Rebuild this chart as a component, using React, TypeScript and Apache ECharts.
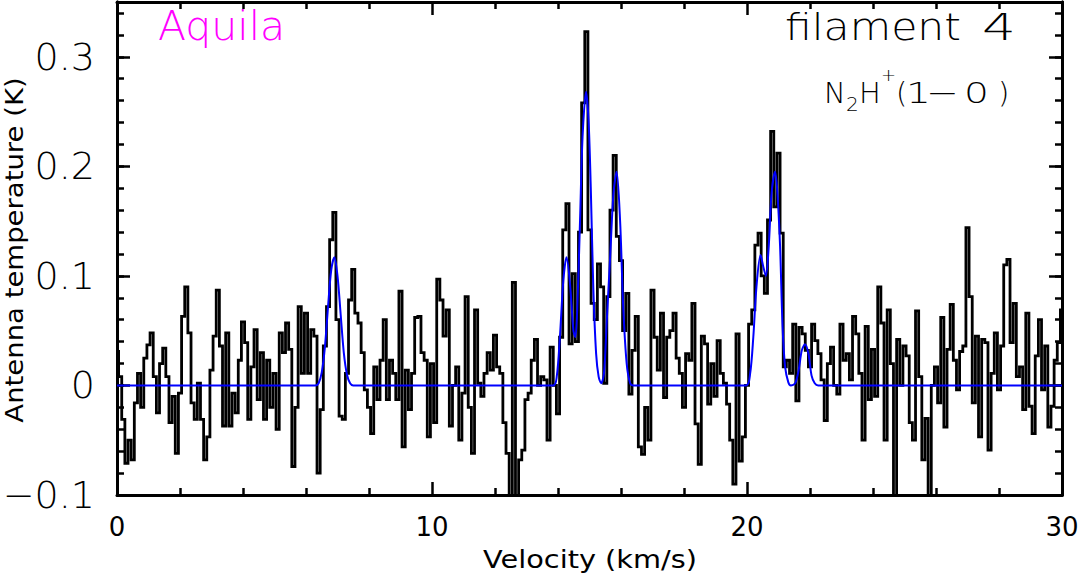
import React, { useEffect, useRef } from "react";
import * as echarts from "echarts";

// ---- data ----
const CHANNEL_WIDTH = 0.1; // km/s

const SPEC_A_START = 0.0;
const SPEC_A = [
  0.031, 0.008, -0.031, -0.071, -0.05, -0.068, -0.016, 0.011, -0.02, 0.025,
  0.037, 0.048, 0.008, -0.025, 0.02, 0.034, 0.008, -0.034, -0.01, -0.062,
  -0.007, 0.063, 0.09, 0.048, -0.016, -0.031, 0.002, -0.031, -0.068, -0.047,
  0.014, 0.045, 0.087, 0.036, -0.037, 0.048, -0.037, -0.007, -0.025, 0.023,
  0.058, 0.039, -0.031, 0.017, 0.051, -0.013, 0.03, -0.031, 0.023, -0.02,
  0.011, -0.04, 0.048, 0.03, 0.057, 0.033, -0.074, -0.02, 0.072, 0.011,
  0.066, 0.011, 0.051, 0.045, -0.08, -0.022, 0.036, 0.072, 0.133, 0.158,
  0.06, -0.028, -0.031, 0.011,
];

const SPEC_B_START = 7.4;
const SPEC_B = [
  0.078, 0.106, 0.066, 0.057, 0.03, -0.004, -0.02, -0.044, 0.017, -0.013,
  0.023, 0.06, -0.013, 0.023, 0.011, -0.013, 0.086, -0.056, 0.014, -0.022,
  0.011, 0.062, 0.063, 0.03, 0.023, -0.047, 0.02, -0.034, 0.097, 0.078,
  0.045, 0.069, -0.037, 0, 0.017, -0.05, -0.007, 0.081, -0.02, -0.062,
  0.069, 0.002, -0.01, 0.011, 0.03, 0.014, 0.046, 0.017, 0.011, -0.034,
  -0.062, -0.105, 0.094, -0.11, -0.068, -0.059, -0.013, -0.007, 0.023, 0.042,
  0,
];

const SPEC_C_START = 13.5;
const SPEC_C = [
  0.008, 0.005, -0.05, 0.035, 0, -0.026, 0.044, 0.142, 0.166, 0.038,
  0.102, 0.04, 0.14, 0.258, 0.323, 0.142, 0.075, 0.06, 0.111, 0.09,
  0.002, 0.081, 0.16, 0.21, 0.136, 0.114, 0.05, 0.084, -0.008, 0.032,
  0.063, -0.056, -0.063, -0.02, -0.05, 0.087, 0.044, 0.014, 0.066, -0.011,
  0.044,
];

const SPEC_D_START = 17.6;
const SPEC_D = [
  0.05, 0.066, 0.025, 0.011, -0.02, 0.029, 0.023, 0.075, -0.035, -0.072,
  0.045, 0.038, -0.017, 0.02, -0.01, 0.041, 0.011, 0.002, -0.017, -0.05,
  -0.09, 0.047, -0.069, -0.047, 0, 0.056, 0.069, 0.128, 0.139, 0.1,
  0.084, 0.151, 0.232, 0.163, 0.212, 0.139, 0.017, 0.023, 0.011, 0.056,
  -0.014, 0.053, 0.047, 0.032, 0.017, 0.056, 0.041, 0.029, 0.005, -0.032,
  0.02, 0.035, 0, -0.008, 0.056, 0.023, 0.029, 0.005, 0.063, 0.047,
  0.011, -0.05,
];

const SPEC_E_START = 23.8;
const SPEC_E = [
  0.054, -0.013, 0.033, -0.01, 0.09, 0.057, -0.05, 0.069, 0.02, -0.105,
  0.042, 0, 0.036, 0.027, -0.034, -0.05, 0.068, 0.008, -0.068, -0.03,
  -0.105, 0, 0.017, -0.016, 0.062, -0.038, 0.033, 0.074, 0.023, -0.004,
  0.031, 0.036, 0.144, 0.081, -0.016, 0.045, -0.047, 0.042, 0.039, -0.059,
  0.011, 0.048, -0.004, 0.036, 0.11, 0.115, 0.039, 0.075, 0.008, 0.017,
  -0.022, 0.066, -0.019, -0.044, 0.027, 0.06, -0.004, 0.036, -0.038, -0.019,
  0.023, 0.039, 0.069,
];

// hyperfine fit (blue)
const FIT_VELOCITY = [
  0, 6.3, 6.4, 6.5, 6.6, 6.7, 6.8, 6.9, 7.0, 7.1, 7.2, 7.3, 7.4, 7.5,
  13.85, 13.96, 14.06, 14.17, 14.27, 14.38, 14.49, 14.55, 14.61, 14.7, 14.78,
  14.89, 14.97, 15.04, 15.12, 15.21, 15.29, 15.37, 15.46, 15.55, 15.65, 15.76,
  15.86, 15.97, 16.07, 16.18, 16.29, 16.4,
  19.97, 20.1, 20.2, 20.3, 20.43, 20.52, 20.6, 20.69, 20.78, 20.89, 20.96,
  21.05, 21.13, 21.21, 21.31, 21.39, 21.53, 21.64, 21.74, 21.84, 21.95, 22.05,
  22.15, 22.26, 30,
];
const FIT_TEMPERATURE = [
  0, 0, 0.002, 0.012, 0.035, 0.072, 0.105, 0.117, 0.1, 0.065, 0.03, 0.01, 0.002, 0,
  0, 0.008, 0.044, 0.096, 0.117, 0.093, 0.05, 0.044, 0.069, 0.151, 0.227,
  0.268, 0.242, 0.181, 0.09, 0.029, 0.008, 0.002, 0.011, 0.06, 0.114, 0.175,
  0.195, 0.151, 0.072, 0.02, 0.002, 0,
  0, 0.011, 0.044, 0.09, 0.119, 0.108, 0.1, 0.127, 0.175, 0.195, 0.178,
  0.127, 0.053, 0.017, 0.003, 0, 0.002, 0.014, 0.032, 0.0375, 0.029, 0.009,
  0.002, 0, 0,
];

const X_MIN = 0;
const X_MAX = 30;
const Y_MIN = -0.1;
const Y_MAX = 0.35;

const FONT = '"DejaVu Sans", "Liberation Sans", sans-serif';

function channels(start: number, values: number[]) {
  return values.map((t, i) => [Number((start + i * CHANNEL_WIDTH).toFixed(3)), t]);
}

const spectrum = [
  ...channels(SPEC_A_START, SPEC_A),
  ...channels(SPEC_B_START, SPEC_B),
  ...channels(SPEC_C_START, SPEC_C),
  ...channels(SPEC_D_START, SPEC_D),
  ...channels(SPEC_E_START, SPEC_E),
];
const fit = FIT_VELOCITY.map((v, i) => [v, FIT_TEMPERATURE[i]]);

function txt(text: string, x: number, y: number, size: number, o: any = {}) {
  return {
    type: "text",
    x,
    y,
    rotation: o.rot || 0,
    scaleX: o.sx || 1,
    silent: true,
    z: 20,
    style: {
      text,
      fontSize: size,
      fontFamily: FONT,
      fontWeight: o.w || 300,
      fill: o.color || "#000",
      align: o.align || "left",
      verticalAlign: "middle",
      textAlign: o.align || "left",
      textVerticalAlign: "middle",
    },
  };
}

function yLabel(v: number) {
  const k = v * 10;
  if (Math.abs(k - Math.round(k)) > 1e-6) return "";
  if (Math.abs(v) < 1e-9) return "0";
  return (v < 0 ? "\u2212" : "") + Math.abs(v).toFixed(1);
}

export default function App() {
  const ref = useRef<HTMLDivElement>(null);
  useEffect(() => {
    if (!ref.current) return;
    const chart = echarts.init(ref.current, null, { renderer: "svg" });
    const lineBlack = { color: "#000", width: 3 };
    const tickMajor = { show: true, inside: true, length: 13, lineStyle: { color: "#000", width: 2.5 } };
    const tickMinor = { show: true, inside: true, length: 7, lineStyle: { color: "#000", width: 2.5 } };
    const xBase = {
      type: "value",
      min: X_MIN,
      max: X_MAX,
      interval: 10,
      axisLine: { show: true, onZero: false, lineStyle: lineBlack },
      axisTick: tickMajor,
      minorTick: { show: true, splitNumber: 5, length: 7, lineStyle: { color: "#000", width: 2.5 } },
      splitLine: { show: false },
      minorSplitLine: { show: false },
    };
    const yBase = (pos: string, interval: number, tick: any, labels: boolean) => ({
      type: "value",
      position: pos,
      min: Y_MIN,
      max: Y_MAX,
      interval,
      axisLine: { show: true, onZero: false, lineStyle: lineBlack },
      axisTick: tick,
      splitLine: { show: false },
      axisLabel: labels
        ? {
            show: true,
            formatter: yLabel,
            fontSize: 38,
            fontFamily: FONT,
            fontWeight: 300,
            color: "#000",
            margin: 22,
            showMaxLabel: false,
          }
        : { show: false },
    });
    chart.setOption({
      animation: false,
      backgroundColor: "#fff",
      grid: { left: 117, right: 17, top: 2, bottom: 80, containLabel: false, outerBoundsMode: "none" },
      xAxis: [
        {
          ...xBase,
          position: "bottom",
          axisLabel: { show: true, fontSize: 26, fontFamily: FONT, fontWeight: 400, color: "#000", margin: 19 },
        },
        { ...xBase, position: "top", axisLabel: { show: false } },
      ],
      yAxis: [
        yBase("left", 0.02, tickMinor, true),
        yBase("left", 0.1, tickMajor, false),
        yBase("right", 0.02, tickMinor, false),
        yBase("right", 0.1, tickMajor, false),
      ],
      series: [
        {
          type: "line",
          name: "spectrum",
          data: spectrum,
          step: "middle",
          showSymbol: false,
          symbol: "none",
          clip: true,
          lineStyle: { color: "#000", width: 2.8, join: "miter" },
          z: 2,
        },
        {
          type: "line",
          name: "fit",
          data: fit,
          smooth: 0.3,
          showSymbol: false,
          symbol: "none",
          clip: true,
          lineStyle: { color: "#0000ff", width: 2 },
          z: 3,
        },
      ],
      graphic: [
        txt("Aquila", 158, 26, 41, { color: "#ff00ff" }),
        txt("filament", 785, 27, 38, { sx: 1.12 }),
        txt("4", 982, 27, 38, { sx: 1.4 }),
        txt("N", 824, 92.5, 29),
        txt("2", 846, 104, 20),
        txt("H", 859, 92.5, 29),
        txt("+", 881, 74, 18),
        txt("(", 896, 92.5, 29),
        txt("1", 906, 92.5, 29, { sx: 1.35 }),
        txt("\u2212", 926, 92.5, 29, { sx: 1.35 }),
        txt("0", 964, 92.5, 29, { sx: 1.35 }),
        txt(")", 998, 92.5, 29),
        txt("Velocity (km/s)", 590, 559, 24, { align: "center", sx: 1.2, w: 400 }),
        txt("Antenna temperature (K)", 14, 250, 25, { align: "center", sx: 1.1, w: 400, rot: Math.PI / 2 }),
      ],
    });
    return () => chart.dispose();
  }, []);
  return (
    <div
      ref={ref}
      style={{ position: "fixed", left: 0, top: 0, width: 1079, height: 575, background: "#fff" }}
    />
  );
}
